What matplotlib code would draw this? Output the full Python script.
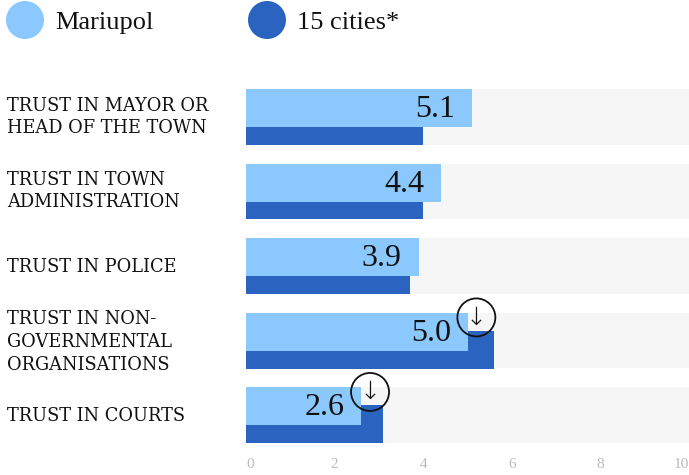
import matplotlib.pyplot as plt
from matplotlib.patches import Circle
import numpy as np

categories = ["TRUST IN MAYOR OR\nHEAD OF THE TOWN",
              "TRUST IN TOWN\nADMINISTRATION",
              "TRUST IN POLICE",
              "TRUST IN NON-\nGOVERNMENTAL\nORGANISATIONS",
              "TRUST IN COURTS"]
mariupol = [5.1, 4.4, 3.9, 5.0, 2.6]
cities = [4.0, 4.0, 3.7, 5.6, 3.1]
lower_flag = [False, False, False, True, True]
ticks = [0, 2, 4, 6, 8, 10]

light = "#8ac8fd"
dark = "#2a64c0"
grey = "#f6f6f6"
serif = "Liberation Serif"

fig = plt.figure(figsize=(6.89, 4.75), dpi=100)
ax = fig.add_axes([246 / 689, 32 / 475, 443 / 689, 354 / 475])

y = np.arange(len(categories))
ax.barh(y, [10] * len(y), height=0.75, color=grey, zorder=1)
ax.barh(y + 0.121, cities, height=0.51, color=dark, zorder=2)
ax.barh(y - 0.12, mariupol, height=0.51, color=light, zorder=3)

for i, v in enumerate(mariupol):
    ax.text(v - 0.38, i - 0.1, f"{v:.1f}", ha="right", va="center",
            fontsize=23, family=serif, color="#111111", zorder=5)
    if lower_flag[i]:
        ax.text(v + 0.2, i - 0.31, "\u2193", ha="center", va="center",
                fontsize=18, family="DejaVu Sans", color="#111111",
                fontweight="light", zorder=6)

ax.set_xlim(0, 10)
ax.set_ylim(4.375, -0.375)
ax.set_yticks([])
ax.set_xticks(ticks)
ax.set_xticklabels([str(t) for t in ticks], family=serif, fontsize=11, color="#bbbbbb")
labs = ax.get_xticklabels()
labs[0].set_ha("left")
labs[-1].set_ha("right")
ax.tick_params(axis="x", length=0, pad=11)
for s in ax.spines.values():
    s.set_visible(False)

# overlay in pixel coordinates for legend, labels and circles
ov = fig.add_axes([0, 0, 1, 1], zorder=10)
ov.set_xlim(0, 689)
ov.set_ylim(475, 0)
ov.axis("off")
ov.patch.set_alpha(0)

ov.add_patch(Circle((25, 20), 19, color=light, lw=0))
ov.add_patch(Circle((267, 20), 19, color=dark, lw=0))
ov.text(55, 23, "Mariupol", fontsize=19, family=serif, va="center", color="#111111")
ov.text(297, 23, "15 cities*", fontsize=19, family=serif, va="center", color="#111111")

row_px = [117, 191, 267, 342, 416]
for lab, py in zip(categories, row_px):
    ov.text(7, py, lab, fontsize=12.8, family="DejaVu Serif", va="center", ha="left",
            linespacing=1.33, color="#111111")

# circles around the arrows (in pixel space so they stay round)
for i, v in enumerate(mariupol):
    if lower_flag[i]:
        cx, cy = ax.transData.transform((v + 0.2, i - 0.31))
        cy = 475 - cy
        ov.add_patch(Circle((cx, cy), 19, fill=False, ec="#111111", lw=1.3))

fig.savefig("out.png", dpi=100)
